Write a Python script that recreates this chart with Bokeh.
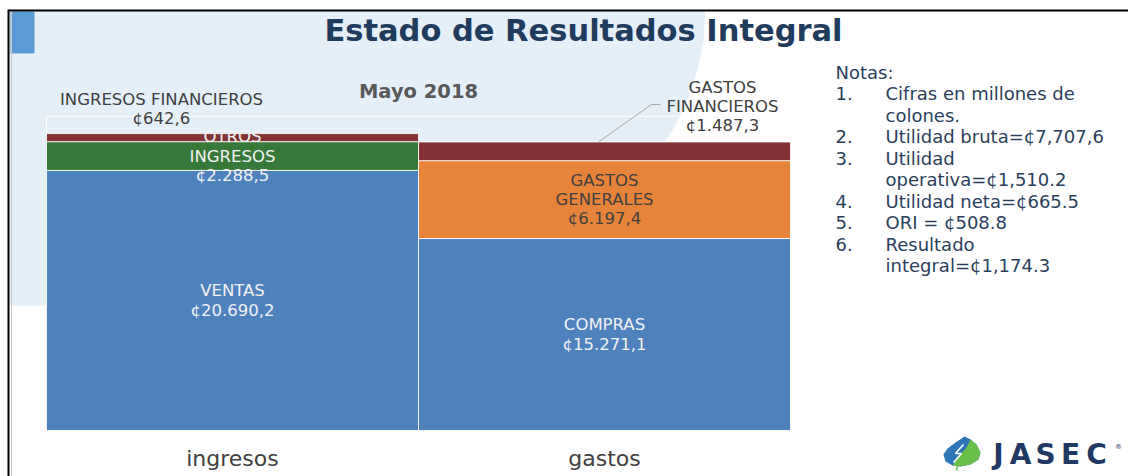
from bokeh.plotting import figure
from bokeh.models import Range1d, ColumnDataSource
from bokeh.core.properties import value
from bokeh.embed import file_html
from bokeh.resources import INLINE
import pandas as pd

# ---------------- data ----------------
title = "Estado de Resultados Integral"
subtitle = "Mayo 2018"
categories = ["ingresos", "gastos"]

ingresos_segments = ["VENTAS", "OTROS INGRESOS", "INGRESOS FINANCIEROS"]
ingresos_values = [20690.2, 2288.5, 642.6]
ingresos_labels = ["VENTAS\n¢20.690,2", "OTROS\nINGRESOS\n¢2.288,5", "INGRESOS FINANCIEROS\n¢642,6"]

gastos_segments = ["COMPRAS", "GASTOS GENERALES", "GASTOS FINANCIEROS"]
gastos_values = [15271.1, 6197.4, 1487.3]
gastos_labels = ["COMPRAS\n¢15.271,1", "GASTOS\nGENERALES\n¢6.197,4", "GASTOS\nFINANCIEROS\n¢1.487,3"]

axis_max = 25000

notes_title = "Notas:"
notes_numbers = ["1.", "2.", "3.", "4.", "5.", "6."]
notes_texts = ["Cifras en millones de\ncolones.", "Utilidad bruta=¢7,707,6",
               "Utilidad\noperativa=¢1,510.2", "Utilidad neta=¢665.5",
               "ORI = ¢508.8", "Resultado\nintegral=¢1,174.3"]
logo_text = "JASEC"

# ---------------- styles ----------------
FONT = "DejaVu Sans"
BLUE, GREEN, RED, ORANGE = "#4f81bd", "#38793a", "#833335", "#e8843a"
ingresos_colors = [BLUE, GREEN, RED]
gastos_colors = [BLUE, ORANGE, RED]
TITLE_C = "#1f3b5e"
GREY = "#404040"
LIGHTBG = "#e4eff8"

W, H = 1128, 476
K = 0.01257  # px per unit (vertical)


def px(X):  # page pixel x -> data x (decorations only)
    return (X - 232) / 372.0


def py(Y):  # page pixel y -> data y (decorations only)
    return (430 - Y) / K


p = figure(width=W, height=H, output_backend="svg", toolbar_location=None,
           x_range=Range1d(px(0), px(W)), y_range=Range1d(py(H), py(0)),
           x_axis_location=None, y_axis_location=None,
           min_border=0, min_border_left=0, min_border_right=0,
           min_border_top=0, min_border_bottom=0)
p.grid.visible = False
p.outline_line_color = None
p.background_fill_color = "white"
p.border_fill_color = "white"

# ---------------- background decoration ----------------
bg = [(8, 10), (705, 10), (703, 40), (697, 70), (687, 100), (672, 130), (650, 160),
      (560, 300), (46, 305), (8, 305)]
p.patch([px(a) for a, b in bg], [py(b) for a, b in bg], fill_color=LIGHTBG, line_color=None)
p.quad(left=[px(10)], right=[px(34)], top=[py(11)], bottom=[py(53)],
       fill_color="#5b9bd5", line_color=None)
# frame borders
p.line([px(8), px(8)], [py(9), py(476)], line_color="black", line_width=2)
p.line([px(8), px(1128)], [py(10), py(10)], line_color="black", line_width=2)
p.line([px(11), px(11)], [py(11), py(476)], line_color="#c8c8c8", line_width=1)

# plot-area outline (max of value axis)
p.quad(left=[-0.5], right=[1.5], bottom=[0], top=[axis_max], fill_color=None,
       line_color="white", line_width=1.2)

# ---------------- stacked bars ----------------
rows = []
for ci, (segs, vals, labs, cols) in enumerate([
        (ingresos_segments, ingresos_values, ingresos_labels, ingresos_colors),
        (gastos_segments, gastos_values, gastos_labels, gastos_colors)]):
    df = pd.DataFrame({"segment": segs, "value": vals, "label": labs, "color": cols})
    df["top"] = df["value"].cumsum()
    df["bottom"] = df["top"] - df["value"]
    df["x"] = ci
    df["mid"] = (df["top"] + df["bottom"]) / 2
    rows.append(df)
bars = pd.concat(rows, ignore_index=True)
src = ColumnDataSource(bars)
p.vbar(x="x", width=1.0, bottom="bottom", top="top", fill_color="color",
       line_color="white", line_width=1, line_alpha=0.85, source=src)

LH = 1.02
LBL = "16.5px"
# inside labels (first two segments of each bar)
inside = bars.groupby("x").head(2).copy()
inside["tcolor"] = ["#f2f2f2" if c != ORANGE else GREY for c in inside["color"]]
p.text(x="x", y="mid", text="label", source=ColumnDataSource(inside),
       text_align="center", text_baseline="middle", text_color="tcolor",
       text_font=value(FONT), text_font_size=LBL, text_line_height=LH)

# outside labels (financial items)
fin_i = bars[(bars["x"] == 0)].iloc[-1]
fin_g = bars[(bars["x"] == 1)].iloc[-1]
p.text(x=[px(161)], y=[py(108.5)], text=[fin_i["label"]], text_align="center",
       text_baseline="middle", text_color=GREY, text_font=value(FONT),
       text_font_size=LBL, text_line_height=LH)
p.text(x=[px(722)], y=[py(106)], text=[fin_g["label"]], text_align="center",
       text_baseline="middle", text_color=GREY, text_font=value(FONT),
       text_font_size=LBL, text_line_height=LH)
p.line([px(660), px(651), px(598)], [py(104), py(104), fin_g["top"]],
       line_color="#a6a6a6", line_width=1)

# category labels
p.text(x=list(range(len(categories))), y=[py(458)] * len(categories), text=categories,
       text_align="center", text_baseline="middle", text_color=GREY,
       text_font=value(FONT), text_font_size="22px")

# titles
p.text(x=[px(583)], y=[py(30)], text=[title], text_align="center", text_baseline="middle",
       text_color=TITLE_C, text_font=value(FONT), text_font_style="bold",
       text_font_size="30.5px")
p.text(x=[px(418)], y=[py(91)], text=[subtitle], text_align="center", text_baseline="middle",
       text_color="#595959", text_font=value(FONT), text_font_style="bold",
       text_font_size="19.5px")

# ---------------- notes ----------------
NOTE_C = "#2b3f5c"
NFS = "18px"
p.text(x=[px(835)], y=[py(72)], text=[notes_title], text_align="left", text_baseline="middle",
       text_color=NOTE_C, text_font=value(FONT), text_font_size=NFS)
nx, ny, tx, ty, tt = [], [], [], [], []
line = 0
for num, txt in zip(notes_numbers, notes_texts):
    nx.append(px(835)); ny.append(py(93 + 21.5 * line))
    for part in txt.split("\n"):
        tx.append(px(885)); ty.append(py(93 + 21.5 * line)); tt.append(part)
        line += 1
p.text(x=nx, y=ny, text=notes_numbers, text_align="left", text_baseline="middle",
       text_color=NOTE_C, text_font=value(FONT), text_font_size=NFS)
p.text(x=tx, y=ty, text=tt, text_align="left", text_baseline="middle",
       text_color=NOTE_C, text_font=value(FONT), text_font_size=NFS)

# ---------------- logo ----------------
drop = [(964, 436), (955, 442), (947, 448), (943, 454), (945, 461), (952, 465), (960, 466),
        (970, 464), (978, 459), (980, 452), (976, 444), (970, 439)]
p.patch([px(a) for a, b in drop], [py(b) for a, b in drop], fill_color="#2e75b6", line_color=None)
leaf = [(970, 439), (976, 444), (980, 452), (978, 459), (970, 464), (960, 466), (952, 465),
        (958, 456), (966, 447)]
p.patch([px(a) for a, b in leaf], [py(b) for a, b in leaf], fill_color="#6abf4b", line_color=None)
p.line([px(957), px(956)], [py(465), py(470)], line_color="#6abf4b", line_width=1.5)
bolt = [(963, 444), (955, 453), (961, 453), (953, 462)]
p.line([px(a) for a, b in bolt], [py(b) for a, b in bolt], line_color="white", line_width=1.5)
letter_x = [998, 1020, 1045, 1070, 1096]
p.text(x=[px(v) for v in letter_x], y=[py(454)] * 5, text=list(logo_text), text_align="center",
       text_baseline="middle", text_color="#1f3864", text_font=value(FONT),
       text_font_style="bold", text_font_size="28px")
p.text(x=[px(1118)], y=[py(446)], text=["®"], text_align="center", text_baseline="middle",
       text_color="#1f3864", text_font=value(FONT), text_font_size="7px")

open("out.html", "w").write(file_html(p, INLINE))
